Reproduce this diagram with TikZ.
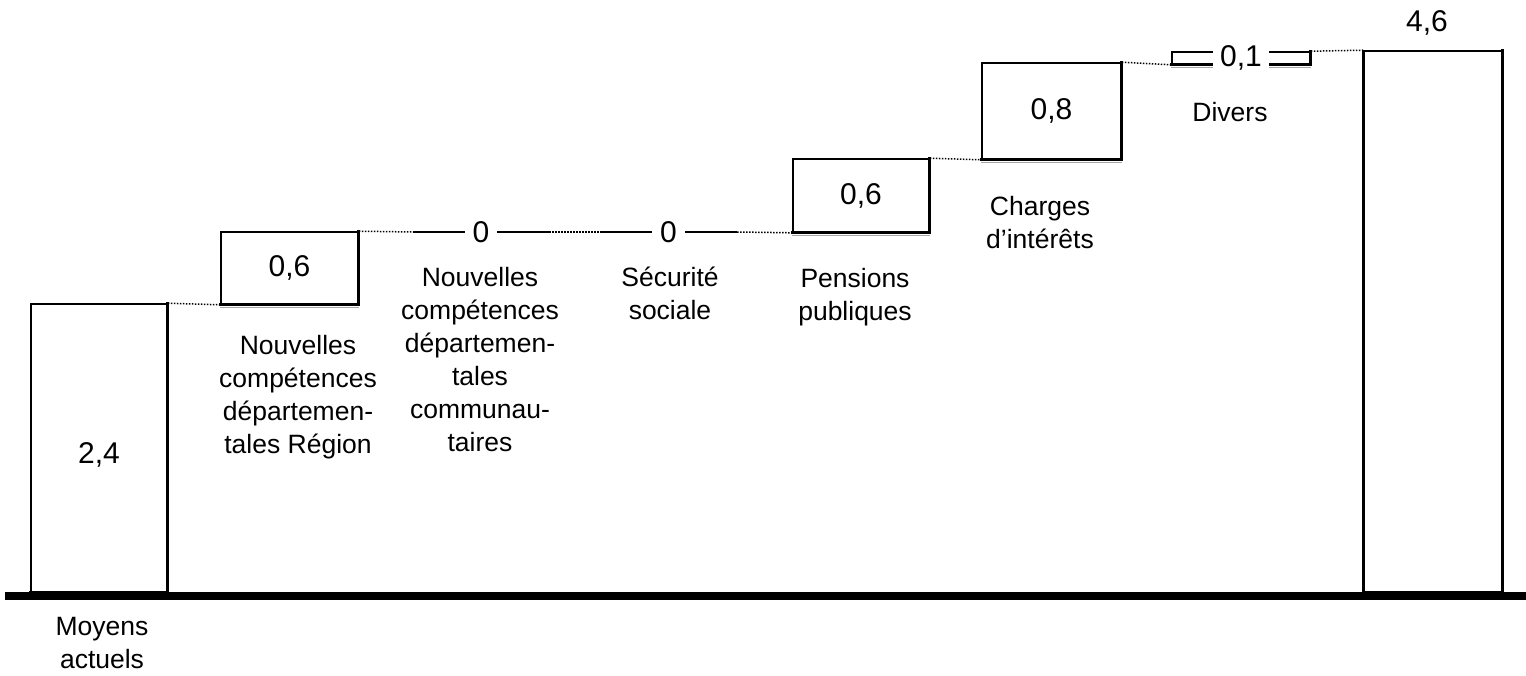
\documentclass[tikz,border=0pt]{standalone}
\usepackage{fontspec}
\setmainfont{Liberation Sans}
\newcommand\fl{\rule{0pt}{26pt}}
\begin{document}
\begin{tikzpicture}[x=1pt,y=-1pt,
  lbl/.style={font=\fontsize{26.5}{33}\selectfont, align=center, inner sep=0pt, anchor=north},
  num/.style={font=\fontsize{30}{33}\selectfont, inner sep=0pt},
  numw/.style={num, fill=white, inner xsep=8pt, inner ysep=3pt},
  box/.style={draw, line width=1.6pt, inner sep=0pt, font=\fontsize{30}{33}\selectfont},
  edge/.style={line width=3pt, line cap=rect},
  shade/.style={gray!70, line width=1.5pt},
  dots/.style={line width=1.5pt, dash pattern=on 1.5pt off 1.5pt},
  zero/.style={inner sep=0pt, minimum height=0pt},
  zline/.style={line width=1.6pt}
]
\useasboundingbox (0,0) rectangle (1526,675);
% axis
\fill (5,592) rectangle (1526,600);
% bars and boxes
\node[box, minimum width=136, minimum height=288] (bar0) at (99,448) {};
\node[num] (v0) at (99,455) {2,4};
\node[box, minimum width=137, minimum height=72] (b1) at (289.5,268) {0,6};
\node[zero, minimum width=136] (z1) at (481,232) {};
\node[zero, minimum width=137] (z2) at (668.5,232) {};
\node[box, minimum width=136, minimum height=73] (b2) at (861,195.5) {0,6};
\node[box, minimum width=139, minimum height=96] (b3) at (1051.5,111) {0,8};
\node[box, minimum width=138, minimum height=12] (b4) at (1241,58) {};
\node[box, minimum width=138, minimum height=541] (bar1) at (1433,321.5) {};
% thick right/bottom edges and shadows
\foreach \n in {bar0,b1,b2,b3,b4,bar1}{
  \draw[edge] (\n.south west) -- (\n.south east) -- (\n.north east);
}
\foreach \n in {b1,b2,b3,b4}{
  \draw[shade] ([yshift=-2.5pt]\n.south west) -- ([yshift=-2.5pt]\n.south east);
}
\draw[line width=3pt] (bar1.south west) -- (bar1.north west);
% zero lines
\draw[zline] (z1.west) -- (z1.east);
\draw[zline] (z2.west) -- (z2.east);
\node[numw] (n1) at (z1) {0};
\node[numw] (n2) at (z2) {0};
\node[numw, inner xsep=7pt] (n4) at (b4) {0,1};
% dotted connectors
\draw[dots] (bar0.north east) -- (b1.south west);
\draw[dots] (b1.north east) -- (z1.west);
\draw[dots] (z1.east) -- (z2.west);
\draw[dots] (z2.east) -- (b2.south west);
\draw[dots] (b2.north east) -- (b3.south west);
\draw[dots] (b3.north east) -- (b4.south west);
\draw[dots] (b4.north east) -- (bar1.north west);
% top value
\node[num, anchor=base] (v5) at (1427,31) {4,6};
% labels
\node[lbl] (l0) at (102,609) {\fl Moyens\\actuels};
\node[lbl] (l1) at (298,328) {\fl Nouvelles\\compétences\\départemen-\\tales Région};
\node[lbl] (l2) at (480,260) {\fl Nouvelles\\compétences\\départemen-\\tales\\communau-\\taires};
\node[lbl] (l3) at (670,260) {\fl Sécurité\\sociale};
\node[lbl] (l4) at (855,261) {\fl Pensions\\publiques};
\node[lbl] (l5) at (1040,189) {\fl Charges\\d’intérêts};
\node[lbl] (l6) at (1230,95) {\fl Divers};
\end{tikzpicture}
\end{document}
